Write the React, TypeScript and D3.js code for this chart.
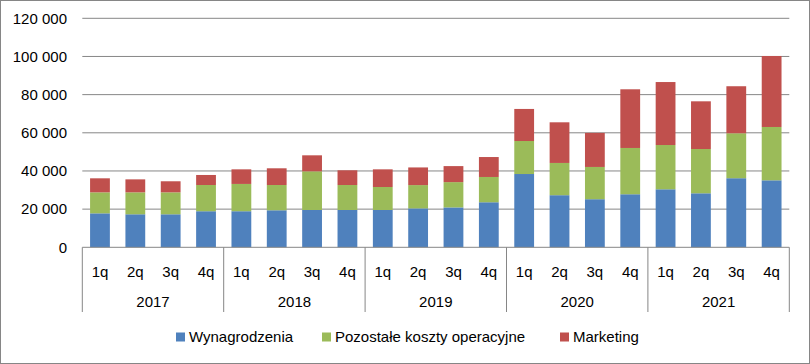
import React, { useRef, useEffect } from 'react';
import * as d3 from 'd3';

// data
const years = ['2017', '2018', '2019', '2020', '2021'];
const quarters = ['1q', '2q', '3q', '4q'];
const seriesNames = ['Wynagrodzenia', 'Pozostałe koszty operacyjne', 'Marketing'];
const wynagrodzenia = [17800, 17300, 17300, 18900, 18900, 19400, 19550, 19550, 19550, 20400, 20900, 23600, 38400, 27300, 25200, 27800, 30400, 28300, 36200, 35100];
const pozostale = [11000, 11500, 11500, 13750, 14300, 13250, 20250, 13100, 12050, 12200, 13250, 13250, 17300, 16900, 16900, 24250, 23200, 23200, 23550, 27950];
const marketing = [7350, 6800, 5800, 5250, 7650, 8750, 8400, 7700, 9250, 9250, 8400, 10450, 16800, 21300, 17850, 30750, 33000, 25000, 24650, 37200];
const yTicks = [0, 20000, 40000, 60000, 80000, 100000, 120000];

const colors = ['#4F81BD', '#9BBB59', '#C0504D'];
const FONT = "'Liberation Sans', Arial, sans-serif";

const App = () => {
	const svgRef = useRef<SVGSVGElement>(null);

	useEffect(() => {
		const width = 810;
		const height = 364;
		const left = 82.3, right = 789.3, top = 18.3, bottom = 247.3;

		const svg = d3.select(svgRef.current)
			.attr('width', width)
			.attr('height', height)
			.style('position', 'absolute')
			.style('left', 0)
			.style('top', 0)
			.style('background', '#fff');
		svg.selectAll('*').remove();

		const rows = years.flatMap((yr, yi) => quarters.map((q, qi) => {
			const i = yi * 4 + qi;
			return { key: `${yr}-${q}`, q, yr, a: wynagrodzenia[i], b: pozostale[i], c: marketing[i] };
		}));

		const x = d3.scaleBand<string>()
			.domain(rows.map(d => d.key))
			.range([left, right])
			.paddingInner(0.44)
			.paddingOuter(0.22);

		const y = d3.scaleLinear()
			.domain([0, 120000])
			.range([bottom, top]);

		const fmt = d3.formatLocale({ decimal: ',', thousands: '\u00a0', grouping: [3], currency: ['', ''] }).format(',');

		// outer border
		svg.append('rect')
			.attr('x', 0.5).attr('y', 0.5)
			.attr('width', width - 1).attr('height', height - 1)
			.attr('fill', 'none').attr('stroke', '#868686');

		// gridlines
		svg.append('g')
			.selectAll('line')
			.data(yTicks.filter(t => t > 0))
			.join('line')
				.attr('x1', left).attr('x2', right)
				.attr('y1', d => y(d)).attr('y2', d => y(d))
				.attr('stroke', '#868686').attr('stroke-width', 1);

		// y labels
		svg.append('g')
			.selectAll('text')
			.data(yTicks)
			.join('text')
				.attr('x', 67)
				.attr('y', d => y(d))
				.attr('dy', '0.35em')
				.attr('text-anchor', 'end')
				.style('font-family', FONT)
				.style('font-size', '15px')
				.attr('fill', '#000')
				.text(d => fmt(d));

		// stacked bars
		const stack = d3.stack<any>().keys(['a', 'b', 'c']);
		const layers = stack(rows);
		svg.append('g')
			.selectAll('g')
			.data(layers)
			.join('g')
				.attr('fill', (d, i) => colors[i])
			.selectAll('rect')
			.data(d => d)
			.join('rect')
				.attr('x', d => x(d.data.key)!)
				.attr('width', x.bandwidth())
				.attr('y', d => y(d[1]))
				.attr('height', d => y(d[0]) - y(d[1]));

		// category axis
		const axis = svg.append('g');
		axis.append('line')
			.attr('x1', left).attr('x2', right)
			.attr('y1', bottom).attr('y2', bottom)
			.attr('stroke', '#868686');

		const step = x.step();
		const sepX = d3.range(years.length + 1).map(i => left + i * 4 * step);
		axis.selectAll('.sep')
			.data(sepX)
			.join('line')
				.attr('class', 'sep')
				.attr('x1', d => d).attr('x2', d => d)
				.attr('y1', bottom).attr('y2', 312)
				.attr('stroke', '#868686');

		axis.selectAll('.ql')
			.data(rows)
			.join('text')
				.attr('class', 'ql')
				.attr('x', d => x(d.key)! + x.bandwidth() / 2)
				.attr('y', 272)
				.attr('dy', '0.35em')
				.attr('text-anchor', 'middle')
				.style('font-family', FONT)
				.style('font-size', '15px')
				.text(d => d.q);

		axis.selectAll('.yl')
			.data(years)
			.join('text')
				.attr('class', 'yl')
				.attr('x', (d, i) => (sepX[i] + sepX[i + 1]) / 2)
				.attr('y', 302)
				.attr('dy', '0.35em')
				.attr('text-anchor', 'middle')
				.style('font-family', FONT)
				.style('font-size', '15px')
				.text(d => d);

		// legend
		const legendX = [176, 322, 560];
		const legend = svg.append('g')
			.selectAll('g')
			.data(seriesNames)
			.join('g')
				.attr('transform', (d, i) => `translate(${legendX[i]}, 337)`);
		legend.append('rect')
			.attr('x', 0).attr('y', -4.5)
			.attr('width', 9).attr('height', 9)
			.attr('fill', (d, i) => colors[i]);
		legend.append('text')
			.attr('x', 13)
			.attr('dy', '0.35em')
			.style('font-family', FONT)
			.style('font-size', '15px')
			.text(d => d);
	}, []);

	return (
		<div>
			<svg ref={svgRef}></svg>
		</div>
	);
};

export default App;
